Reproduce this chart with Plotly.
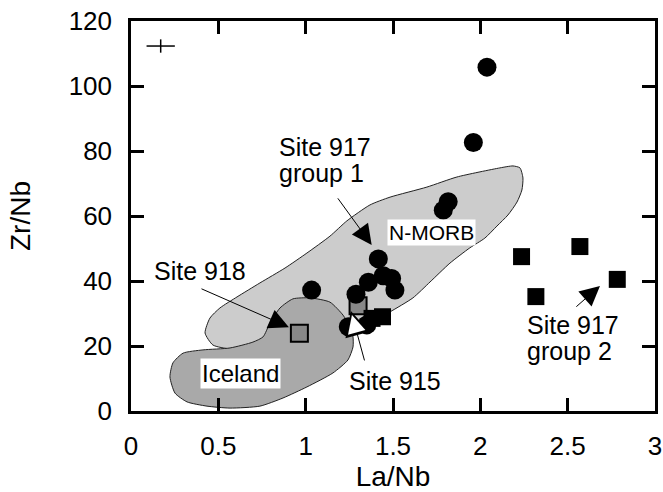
import plotly.graph_objects as go

# ---------------- data ----------------
# Site 917 group 1 (filled circles)
circ_x = [2.038, 1.960, 1.816, 1.788, 1.416, 1.359, 1.444, 1.492, 1.511, 1.288, 1.034, 1.244, 1.350]
circ_y = [105.8, 82.6, 64.4, 61.8, 46.8, 39.6, 41.6, 40.8, 37.2, 35.9, 37.2, 25.9, 26.5]

# filled squares (Site 917 group 2 and others)
sq_x = [1.440, 1.380, 2.236, 2.570, 2.318, 2.784]
sq_y = [29.0, 28.5, 47.5, 50.6, 35.2, 40.5]

# grey squares (Site 918, Site 915)
gsq_x = [0.964, 1.300]
gsq_y = [23.9, 32.4]

# N-MORB field outline
nmorb_x = [0.424, 0.452, 0.509, 0.607, 0.738, 0.882, 1.007, 1.139, 1.236, 1.368, 1.483, 1.694, 1.866,
           2.112, 2.187, 2.227, 2.244, 2.238, 2.210, 2.158, 2.095, 2.026, 1.940, 1.826, 1.712, 1.614,
           1.483, 1.380, 1.225, 0.967, 0.681, 0.567, 0.469]
nmorb_y = [24.0, 28.6, 31.7, 35.1, 39.4, 44.0, 48.6, 53.8, 58.5, 63.4, 65.8, 68.9, 72.0,
           74.8, 75.4, 74.8, 71.7, 68.0, 64.3, 60.3, 56.9, 53.2, 50.2, 45.5, 39.7, 34.8,
           30.5, 27.4, 24.9, 21.2, 19.4, 19.1, 20.3]

# Iceland field outline
ice_x = [0.223, 0.252, 0.321, 0.435, 0.567, 0.738, 0.870, 1.007, 1.156, 1.242, 1.271, 1.271, 1.254,
         1.214, 1.139, 1.025, 0.927, 0.853, 0.796, 0.756, 0.698, 0.567, 0.412, 0.298, 0.240]
ice_y = [10.5, 5.5, 2.8, 1.5, 0.9, 1.5, 4.0, 7.4, 11.7, 15.7, 19.7, 22.8, 25.8,
         29.5, 33.5, 34.8, 34.5, 31.7, 27.1, 22.8, 21.2, 19.4, 18.8, 17.8, 14.8]

# analytical error cross
err_x = [0.17]
err_y = [112.3]
err_dx = [0.081]
err_dy = [2.05]

x_ticks = [0, 0.5, 1, 1.5, 2, 2.5, 3]
x_ticktext = ["0", "0.5", "1", "1.5", "2", "2.5", "3"]
y_ticks = [0, 20, 40, 60, 80, 100, 120]

FONT = "Liberation Sans, Arial, Helvetica, sans-serif"

fig = go.Figure()

fig.add_trace(go.Scatter(x=nmorb_x + [nmorb_x[0]], y=nmorb_y + [nmorb_y[0]], mode="lines",
                         fill="toself", fillcolor="#cccccc",
                         line=dict(color="#222222", width=1, shape="spline", smoothing=0.6),
                         hoverinfo="skip", showlegend=False))
fig.add_trace(go.Scatter(x=ice_x + [ice_x[0]], y=ice_y + [ice_y[0]], mode="lines",
                         fill="toself", fillcolor="#a9a9a9",
                         line=dict(color="#222222", width=1, shape="spline", smoothing=0.6),
                         hoverinfo="skip", showlegend=False))

fig.add_trace(go.Scatter(x=gsq_x, y=gsq_y, mode="markers",
                         marker=dict(symbol="square", size=17, color="#888888",
                                     line=dict(color="black", width=2)),
                         showlegend=False))
fig.add_trace(go.Scatter(x=circ_x, y=circ_y, mode="markers",
                         marker=dict(symbol="circle", size=19, color="black",
                                     line=dict(width=0)),
                         showlegend=False))
fig.add_trace(go.Scatter(x=sq_x, y=sq_y, mode="markers",
                         marker=dict(symbol="square", size=17, color="black",
                                     line=dict(width=0)),
                         showlegend=False))
fig.add_trace(go.Scatter(x=err_x, y=err_y, mode="markers",
                         marker=dict(size=1, color="rgba(0,0,0,0)"),
                         error_x=dict(type="data", array=err_dx, width=0, thickness=1.5, color="black"),
                         error_y=dict(type="data", array=err_dy, width=0, thickness=1.5, color="black"),
                         showlegend=False))

annotations = []

def label(x, y, text, size=25, xanchor="left", bg=None, height=None):
    d = dict(x=x, y=y, xref="x", yref="y", text=text, showarrow=False,
             xanchor=xanchor, yanchor="middle",
             font=dict(family=FONT, size=size, color="black"))
    if bg:
        d.update(bgcolor=bg, borderpad=1)
    if height:
        d.update(height=height)
    annotations.append(d)

def arrow(x, y, ax, ay, color="black", size=4.0, width=1.0, standoff=0):
    annotations.append(dict(x=x, y=y, ax=ax, ay=ay, xref="x", yref="y", axref="x", ayref="y",
                            text="", showarrow=True, arrowhead=2, arrowsize=size,
                            arrowwidth=width, arrowcolor=color, standoff=standoff))

label(0.834, 81.3, "Site 917", height=20)
label(0.834, 73.3, "group 1")
label(0.120, 43.1, "Site 918")
label(1.235, 9.2, "Site 915")
label(2.255, 26.5, "Site 917", height=20)
label(2.255, 18.4, "group 2")
label(1.720, 54.9, "N-MORB", size=21, xanchor="center", bg="white")
label(0.627, 11.4, "Iceland", size=24, xanchor="center", bg="white")

arrow(1.378, 51.1, 1.178, 65.9)
arrow(0.904, 25.8, 0.395, 37.8)
arrow(2.685, 38.5, 2.541, 31.7)
# Site 915: white head with black outline
arrow(1.259, 30.8, 1.339, 15.1, color="black", size=5.0)
arrow(1.262, 30.1, 1.290, 24.6, color="white", size=3.6, standoff=2)

fig.update_layout(
    width=663, height=492,
    margin=dict(l=131, r=8, t=21, b=81),
    paper_bgcolor="white", plot_bgcolor="white",
    font=dict(family=FONT, size=26, color="black"),
    annotations=annotations,
    showlegend=False,
)
axis_common = dict(showgrid=False, zeroline=False, showline=True, linecolor="black", linewidth=2.5,
                   ticks="inside", ticklen=13, tickwidth=2.5, tickcolor="black", mirror="allticks",
                   automargin=False,
                   tickfont=dict(family=FONT, size=26, color="black"))
fig.update_xaxes(range=[0, 3], tickvals=x_ticks, ticktext=x_ticktext,
                 title=dict(text="La/Nb", font=dict(family=FONT, size=28), standoff=8),
                 ticklabelstandoff=10, **axis_common)
fig.update_yaxes(range=[0, 120], tickvals=y_ticks,
                 title=dict(text="Zr/Nb", font=dict(family=FONT, size=28), standoff=30),
                 ticklabelstandoff=11, **axis_common)

fig.write_html("out.html", config={"displayModeBar": False},
               post_script="document.body.style.margin='0';")
